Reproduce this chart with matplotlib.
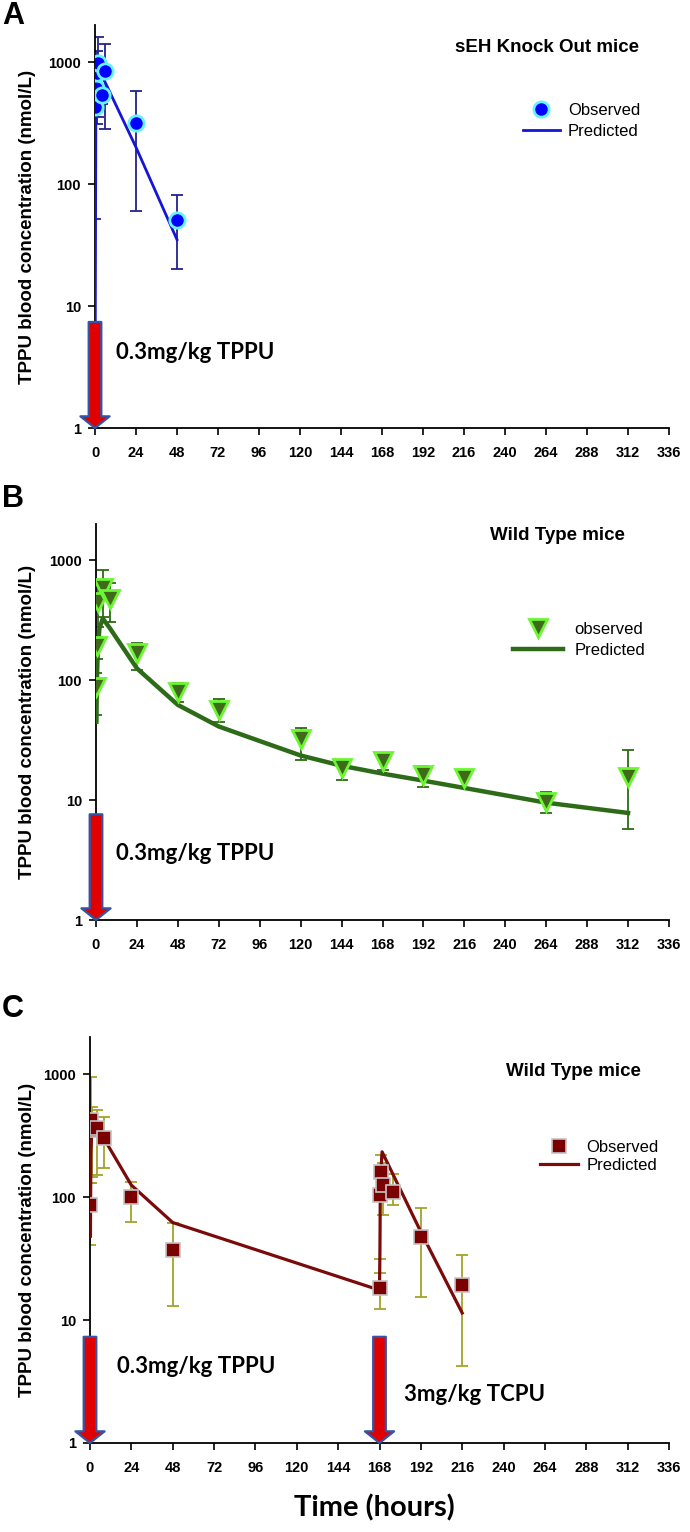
import matplotlib
matplotlib.use("Agg")
import matplotlib.pyplot as plt
from matplotlib.lines import Line2D

plt.rcParams['font.family'] = ['Liberation Sans', 'DejaVu Sans']

# ---------------- data ----------------
xticks = list(range(0, 337, 24))
yticks = [1, 10, 100, 1000]
ytick_labels = ['1', '10', '100', '1000']

# Panel A: sEH knock-out mice
a_time = [0.25, 0.5, 1, 2, 4, 6, 24, 48]
a_obs = [430, 610, 810, 975, 536, 850, 317, 51]
a_lo = [52, 520, 310, 356, 450, 281, 60, 20]
a_hi = [808, 700, 1240, 1590, 620, 1400, 582, 82]
a_pred_time = [0, 0.5, 1, 2, 4, 6, 24, 48]
a_pred = [1, 400, 620, 780, 760, 680, 200, 35]

# Panel B: wild type mice
b_time = [0.25, 0.5, 1, 4, 8, 24, 48, 72, 120, 144, 168, 192, 216, 264, 312]
b_obs = [88, 192, 450, 581, 470, 167, 80, 56, 32, 18.4, 21, 16.2, 15.2, 9.7, 15.6]
b_lo = [51, 151, 278, 337, 306, 121, 66, 45, 21.5, 14.8, 17.8, 12.8, 12.6, 7.8, 5.7]
b_hi = [115, 230, 620, 825, 647, 205, 94, 69, 40, 21, 24.2, 19.3, 17.8, 11.6, 25.9]
b_pred_time = [0.25, 0.5, 1, 2, 4, 8, 24, 48, 72, 96, 120, 144, 168, 192, 216, 264, 312]
b_pred = [45, 95, 175, 270, 325, 272, 125, 62, 41, 31, 23.5, 19.3, 16.6, 14.5, 12.6, 9.5, 7.8]

# Panel C: wild type mice, TPPU then TCPU
c_time = [0.25, 0.5, 1, 4, 8, 24, 48, 168, 168.5, 169, 170, 176, 192, 216]
c_obs = [86, 423, 351, 362, 300, 100, 37, 18.1, 104, 161, 125, 110, 47.5, 19.3]
c_lo = [41, 130, 146, 151, 172, 63, 12.9, 12.4, 31.6, 103, 71, 86, 15.5, 4.2]
c_hi = [131, 950, 543, 510, 450, 133, 62, 24, 176, 219, 188, 155, 81, 34]
c_pred_time = [0.25, 0.5, 1, 2, 4, 8, 24, 48, 168, 168.25, 168.5, 169.5, 192, 216]
c_pred = [48, 227, 330, 370, 360, 300, 125, 62, 17.5, 37, 137, 233, 52, 11.4]

dose_times_a = [0]
dose_times_b = [0]
dose_times_c = [0, 168]

# ---------------- figure ----------------
W, H = 690, 1532
fig = plt.figure(figsize=(W / 100, H / 100), dpi=100)


def add_ax(left, right, bottom, top):
    return fig.add_axes([left / W, 1 - bottom / H, (right - left) / W, (bottom - top) / H])


axA = add_ax(95, 669, 428, 25.3)
axB = add_ax(96, 669, 920, 523.9)
axC = add_ax(90, 669, 1443, 1037)

YL = 'TPPU blood concentration (nmol/L)'
for ax in (axA, axB, axC):
    ax.set_yscale('log')
    ax.set_ylim(1, 2000)
    ax.set_xlim(0, 336)
    ax.set_xticks(xticks)
    ax.set_xticklabels([str(t) for t in xticks], fontsize=10.5, fontweight='bold')
    ax.set_yticks(yticks)
    ax.set_yticklabels(ytick_labels, fontsize=10.5, fontweight='bold')
    ax.yaxis.set_minor_locator(matplotlib.ticker.NullLocator())
    for s in ('top', 'right'):
        ax.spines[s].set_visible(False)
    for s in ('left', 'bottom'):
        ax.spines[s].set_linewidth(1.3)
        ax.spines[s].set_color('black')
    ax.tick_params(direction='out', length=5, width=1.2, pad=5)
    ax.tick_params(axis='x', pad=8)
    ax.set_ylabel(YL, fontsize=13.5, fontweight='bold')
    ax.yaxis.set_label_coords(-(ax.get_position().x0 * W - 36) / (ax.get_position().width * W), 0.5)
    ax.patch.set_alpha(0)


def err(obs, lo, hi):
    return [[o - l for o, l in zip(obs, lo)], [h - o for o, h in zip(obs, hi)]]


def arrows(ax, times, top):
    for t in times:
        ax.annotate('', xy=(t, 1), xytext=(t, top), xycoords='data',
                    arrowprops=dict(arrowstyle='simple,head_length=0.6,head_width=1.5,tail_width=0.65',
                                    mutation_scale=14, fc='#e00000', ec='#3355a6', lw=1.6,
                                    shrinkA=0, shrinkB=0),
                    annotation_clip=False, zorder=10)


dose_font = dict(family=['Lato', 'DejaVu Sans'], fontweight='bold', fontsize=16, va='center', ha='left')

# ---- Panel A ----
axA.errorbar(a_time, a_obs, yerr=err(a_obs, a_lo, a_hi), fmt='none', ecolor='#22228a',
             elinewidth=1.3, capsize=4.5, capthick=1.3, zorder=2)
axA.plot(a_pred_time, a_pred, color='#1515d5', lw=2, zorder=3)
axA.plot(a_time, a_obs, ls='none', marker='o', ms=11, mfc='#0000ff', mec='#66f2ff', mew=2, zorder=4)
arrows(axA, dose_times_a, 7.4)
axA.text(12.3, 4.12, '0.3mg/kg TPPU', **dose_font)
hA = [Line2D([], [], ls='none', marker='o', ms=11, mfc='#0000ff', mec='#66f2ff', mew=2),
      Line2D([], [], color='#1515d5', lw=2)]
axA.legend(hA, ['Observed', 'Predicted'], loc='upper left', bbox_to_anchor=(523 / W, 1 - 103 / H),
           bbox_transform=fig.transFigure, frameon=False, fontsize=12, handlelength=2.2,
           handletextpad=0.5, labelspacing=0.35, borderpad=0, borderaxespad=0)

# ---- Panel B ----
axB.errorbar(b_time, b_obs, yerr=err(b_obs, b_lo, b_hi), fmt='none', ecolor='#2d6b14',
             elinewidth=1.3, capsize=4.5, capthick=1.3, zorder=2)
axB.plot(b_pred_time, b_pred, color='#2e6b18', lw=3.2, zorder=3)
axB.plot(b_time, b_obs, ls='none', marker='v', ms=13, mfc='#3e6a1a', mec='#6cf532', mew=2, zorder=4)
arrows(axB, dose_times_b, 7.6)
axB.text(11.7, 3.6, '0.3mg/kg TPPU', **dose_font)
hB = [Line2D([], [], ls='none', marker='v', ms=13, mfc='#3e6a1a', mec='#6cf532', mew=2),
      Line2D([], [], color='#2e6b18', lw=3.2)]
axB.legend(hB, ['observed', 'Predicted'], loc='upper left', bbox_to_anchor=(513 / W, 1 - 622 / H),
           bbox_transform=fig.transFigure, frameon=False, fontsize=12, handlelength=3.0,
           handletextpad=0.7, labelspacing=0.35, borderpad=0, borderaxespad=0)

# ---- Panel C ----
axC.errorbar(c_time, c_obs, yerr=err(c_obs, c_lo, c_hi), fmt='none', ecolor='#a3a32a',
             elinewidth=1.3, capsize=4.5, capthick=1.3, zorder=2)
axC.plot(c_pred_time, c_pred, color='#7b0a0a', lw=2.3, zorder=3)
axC.plot(c_time, c_obs, ls='none', marker='s', ms=10, mfc='#7b0000', mec='#c4c4c4', mew=1.2, zorder=4)
arrows(axC, dose_times_c, 7.3)
axC.text(15.7, 4.15, '0.3mg/kg TPPU', **dose_font)
axC.text(182, 2.46, '3mg/kg TCPU', **dose_font)
hC = [Line2D([], [], ls='none', marker='s', ms=10, mfc='#7b0000', mec='#c4c4c4', mew=1.2),
      Line2D([], [], color='#7b0a0a', lw=2.3)]
axC.legend(hC, ['Observed', 'Predicted'], loc='upper left', bbox_to_anchor=(540 / W, 1 - 1140 / H),
           bbox_transform=fig.transFigure, frameon=False, fontsize=12, handlelength=2.3,
           handletextpad=0.5, labelspacing=0.15, borderpad=0, borderaxespad=0)

# ---- titles and labels ----
fig.text(547 / W, 1 - 47 / H, 'sEH Knock Out mice', fontsize=13.5, fontweight='bold', ha='center', va='center')
fig.text(557 / W, 1 - 535 / H, 'Wild Type mice', fontsize=13.5, fontweight='bold', ha='center', va='center')
fig.text(573 / W, 1 - 1072 / H, 'Wild Type mice', fontsize=13.5, fontweight='bold', ha='center', va='center')
for letter, y in (('A', 16), ('B', 499), ('C', 1009)):
    fig.text(13 / W, 1 - y / H, letter, fontsize=22, fontweight='bold', ha='center', va='center')
fig.text(374 / W, 1 - 1508 / H, 'Time (hours)', family=['Lato', 'DejaVu Sans'], fontsize=21,
         fontweight='bold', ha='center', va='center')

fig.savefig('out.png', dpi=100)
